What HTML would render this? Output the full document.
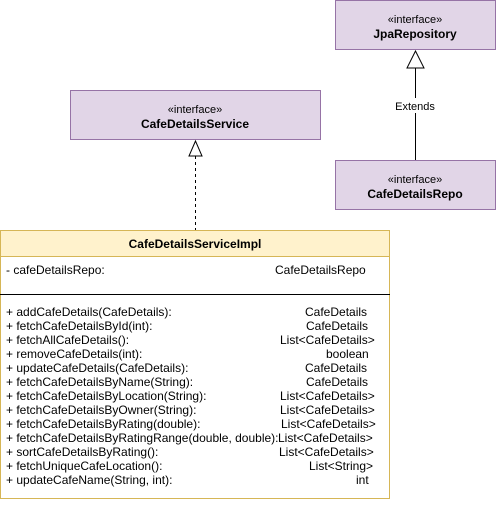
<!DOCTYPE html>
<html><head><meta charset="utf-8"><style>
body{margin:0;width:496px;height:504px;background:#fff;overflow:hidden}
</style></head><body>
<svg width="496" height="504" xmlns="http://www.w3.org/2000/svg" font-family="Liberation Sans, Arial, sans-serif" font-size="12">
<rect x="335.5" y="0.5" width="160" height="49" fill="#e1d5e7" stroke="#9673a6"/>
<text x="415" y="23" text-anchor="middle" font-size="11">«interface»</text>
<text x="415" y="38" text-anchor="middle" font-weight="bold">JpaRepository</text>
<rect x="70.5" y="90.5" width="250" height="49" fill="#e1d5e7" stroke="#9673a6"/>
<text x="195" y="113" text-anchor="middle" font-size="11">«interface»</text>
<text x="195" y="128" text-anchor="middle" font-weight="bold">CafeDetailsService</text>
<rect x="335.5" y="160.5" width="160" height="49" fill="#e1d5e7" stroke="#9673a6"/>
<text x="415" y="183" text-anchor="middle" font-size="11">«interface»</text>
<text x="415" y="198" text-anchor="middle" font-weight="bold">CafeDetailsRepo</text>
<line x1="415.5" y1="68" x2="415.5" y2="160" stroke="#000"/>
<polygon points="415.5,51 407,68 424,68" fill="#fff" stroke="#000"/>
<rect x="392" y="98" width="48" height="15" fill="#fff"/>
<text x="415" y="110" text-anchor="middle" font-size="11">Extends</text>
<line x1="195.5" y1="156" x2="195.5" y2="230" stroke="#000" stroke-dasharray="3,3"/>
<polygon points="195.5,141 189,156 202,156" fill="#fff" stroke="#000"/>
<rect x="0.5" y="230.5" width="389" height="268" fill="#fff" stroke="#d6b656"/>
<rect x="0.5" y="230.5" width="389" height="26" fill="#fff2cc" stroke="#d6b656"/>
<text x="195" y="248" text-anchor="middle" font-weight="bold">CafeDetailsServiceImpl</text>
<text x="6" y="274">- cafeDetailsRepo:</text>
<text x="275" y="274">CafeDetailsRepo</text>
<line x1="0" y1="294.5" x2="390" y2="294.5" stroke="#000"/>
<g>
<text x="6" y="316">+ addCafeDetails(CafeDetails):</text><text x="305" y="316">CafeDetails</text>
<text x="6" y="330">+ fetchCafeDetailsById(int):</text><text x="306" y="330">CafeDetails</text>
<text x="6" y="344">+ fetchAllCafeDetails():</text><text x="280" y="344">List&lt;CafeDetails&gt;</text>
<text x="6" y="358">+ removeCafeDetails(int):</text><text x="326" y="358">boolean</text>
<text x="6" y="372">+ updateCafeDetails(CafeDetails):</text><text x="305" y="372">CafeDetails</text>
<text x="6" y="386">+ fetchCafeDetailsByName(String):</text><text x="306" y="386">CafeDetails</text>
<text x="6" y="400">+ fetchCafeDetailsByLocation(String):</text><text x="280" y="400">List&lt;CafeDetails&gt;</text>
<text x="6" y="414">+ fetchCafeDetailsByOwner(String):</text><text x="280" y="414">List&lt;CafeDetails&gt;</text>
<text x="6" y="428">+ fetchCafeDetailsByRating(double):</text><text x="281" y="428">List&lt;CafeDetails&gt;</text>
<text x="6" y="442">+ fetchCafeDetailsByRatingRange(double, double):</text><text x="278" y="442">List&lt;CafeDetails&gt;</text>
<text x="6" y="456">+ sortCafeDetailsByRating():</text><text x="279" y="456">List&lt;CafeDetails&gt;</text>
<text x="6" y="470">+ fetchUniqueCafeLocation():</text><text x="309" y="470">List&lt;String&gt;</text>
<text x="6" y="484">+ updateCafeName(String, int):</text><text x="356" y="484">int</text>
</g>
</svg>
</body></html>
